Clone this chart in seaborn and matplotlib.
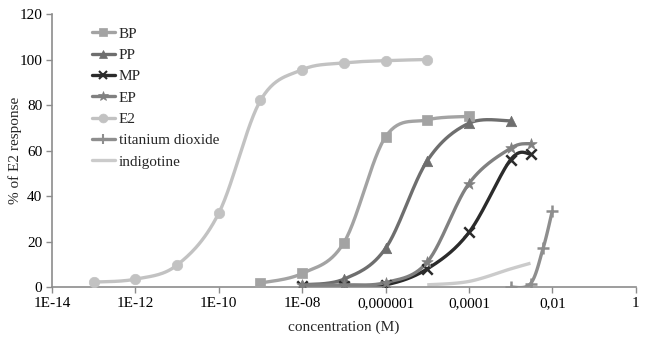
import numpy as np
import pandas as pd
import matplotlib
matplotlib.use("Agg")
import matplotlib.pyplot as plt
import seaborn as sns
from matplotlib.lines import Line2D

# concentrations (M) and responses (% of E2)
bp_conc = [1e-9, 1e-8, 1e-7, 1e-6, 1e-5, 1e-4]
bp_resp = [1.8, 6, 19.5, 66, 73.5, 75]

pp_conc = [1e-8, 1e-7, 1e-6, 1e-5, 1e-4, 1e-3]
pp_resp = [1, 3.5, 17, 55.5, 72, 73]

mp_conc = [1e-8, 1e-7, 1e-6, 1e-5, 1e-4, 1e-3, 3e-3]
mp_resp = [0.5, 0.5, 1, 8, 24, 56, 58.5]

ep_conc = [1e-8, 1e-7, 1e-6, 1e-5, 1e-4, 1e-3, 3e-3]
ep_resp = [1, 1, 2, 11, 45.5, 61, 63]

e2_conc = [1e-13, 1e-12, 1e-11, 1e-10, 1e-9, 1e-8, 1e-7, 1e-6, 1e-5]
e2_resp = [2.2, 3.5, 9.7, 32.5, 82, 95.5, 98.5, 99.5, 100]

tio2_conc = [1e-3, 3e-3, 6e-3, 1e-2]
tio2_resp = [0, 1.5, 17, 33.5]

indi_conc = [1e-5, 1e-4, 1e-3, 3e-3]
indi_resp = [1, 2.5, 8, 10.5]

series_names = ["BP", "PP", "MP", "EP", "E2", "titanium dioxide", "indigotine"]
series_conc = [bp_conc, pp_conc, mp_conc, ep_conc, e2_conc, tio2_conc, indi_conc]
series_resp = [bp_resp, pp_resp, mp_resp, ep_resp, e2_resp, tio2_resp, indi_resp]

colors = ["#a3a3a3", "#6e6e6e", "#2b2b2b", "#808080", "#c2c2c2", "#8e8e8e", "#cbcbcb"]
markers = ["s", "^", "x", "*", "o", "+", None]
msizes = [7, 7.5, 7.5, 8.5, 7.5, 8.5, 0]

x_ticks = [1e-14, 1e-12, 1e-10, 1e-8, 1e-6, 1e-4, 1e-2, 1]
x_labels = ["1E-14", "1E-12", "1E-10", "1E-08", "0,000001", "0,0001", "0,01", "1"]


def smooth(conc, resp, n=30):
    # Excel-style smoothed line (Catmull-Rom) in log-x space
    px = np.log10(conc)
    py = np.asarray(resp, dtype=float)
    if len(px) < 3:
        return np.asarray(conc), py
    P = np.column_stack([px, py])
    P = np.vstack([P[0], P, P[-1]])
    out = []
    for i in range(1, len(P) - 2):
        p0, p1, p2, p3 = P[i - 1], P[i], P[i + 1], P[i + 2]
        c1 = p1 + (p2 - p0) / 6
        c2 = p2 - (p3 - p1) / 6
        t = np.linspace(0, 1, n)[:, None]
        seg = ((1 - t) ** 3) * p1 + 3 * ((1 - t) ** 2) * t * c1 + 3 * (1 - t) * t ** 2 * c2 + t ** 3 * p2
        out.append(seg if i == 1 else seg[1:])
    out = np.vstack(out)
    return 10 ** out[:, 0], out[:, 1]


sns.set_style("white")
plt.rcParams["font.family"] = ["Liberation Serif", "DejaVu Serif"]

fig = plt.figure(figsize=(6.5, 3.41), dpi=100)
ax = fig.add_axes([0.08, 0.158, 0.898, 0.801])

handles = []
for name, conc, resp, c, m, ms in zip(series_names, series_conc, series_resp, colors, markers, msizes):
    sx, sy = smooth(conc, resp)
    ax.plot(sx, sy, color=c, lw=2.4, solid_capstyle="butt", zorder=2)
    if m is not None:
        df = pd.DataFrame({"conc": conc, "resp": resp})
        sns.scatterplot(data=df, x="conc", y="resp", ax=ax, marker=m, s=ms ** 2,
                        color=c, edgecolor=c, linewidth=1.8 if m in ("x", "+") else 0.5, zorder=3)
    handles.append(Line2D([], [], color=c, lw=2.4, marker=m if m else None, markersize=ms * 0.85,
                          markeredgecolor=c, markeredgewidth=1.5 if m in ("x", "+") else 0.5))

ax.set_xscale("log")
ax.set_xlim(1e-14, 1)
ax.set_ylim(0, 120)
ax.set_xticks(x_ticks)
ax.set_xticklabels(x_labels)
ax.xaxis.set_minor_locator(matplotlib.ticker.NullLocator())
ax.set_yticks(range(0, 121, 20))

for side in ["top", "right"]:
    ax.spines[side].set_visible(False)
for side in ["left", "bottom"]:
    ax.spines[side].set_color("#8c8c8c")
    ax.spines[side].set_linewidth(1.2)
ax.tick_params(axis="both", which="major", length=4, width=1, color="#8c8c8c",
               labelsize=11, labelcolor="black", direction="out", pad=3, left=True, bottom=True)

ax.set_xlabel("concentration (M)", fontsize=11, labelpad=8)
ax.set_ylabel("% of E2 response", fontsize=11)
ax.yaxis.set_label_coords(-0.052, 0.5)

ax.legend(handles, series_names, loc="upper left", bbox_to_anchor=(0.058, 0.975), frameon=False,
          fontsize=11, handlelength=1.5, handletextpad=0.25, labelspacing=0.5, borderaxespad=0)

fig.savefig("out.png", dpi=100)
